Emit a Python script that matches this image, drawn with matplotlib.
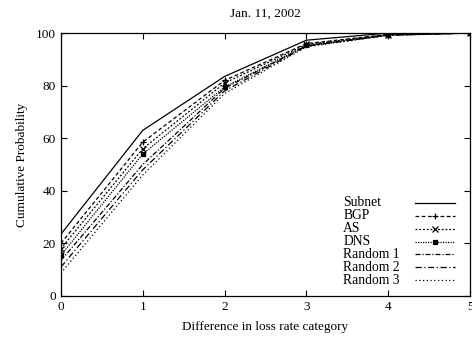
import matplotlib
matplotlib.use("Agg")
import matplotlib.pyplot as plt
from matplotlib.lines import Line2D

plt.rcParams['font.family'] = ['Liberation Serif', 'DejaVu Serif']
plt.rcParams['font.size'] = 9.5

categories = [0, 1, 2, 3, 4, 5]
subnet = [23.5, 63, 83.5, 97.3, 100, 100]
bgp = [20, 58.5, 82, 96, 99.5, 100]
as_ = [18, 56, 81, 95.7, 99.4, 100]
dns = [15.5, 54, 79.5, 95.3, 99.3, 100]
random1 = [13.5, 50, 79, 95.2, 99.2, 100]
random2 = [11, 48, 78, 95, 99.2, 100]
random3 = [8.7, 46, 77, 94.8, 99.1, 100]

series = [
    ("Subnet", subnet, dict(linestyle='-', marker=None)),
    ("BGP", bgp, dict(linestyle=(0, (3, 2)), marker='+', markersize=5)),
    ("AS", as_, dict(linestyle=(0, (1.5, 1.5)), marker='x', markersize=4)),
    ("DNS", dns, dict(linestyle=(0, (1, 1)), marker='s', markersize=3.5)),
    ("Random 1", random1, dict(linestyle=(0, (4, 1.5, 1, 1.5)), marker=None)),
    ("Random 2", random2, dict(linestyle=(0, (5, 2, 1, 2)), marker=None)),
    ("Random 3", random3, dict(linestyle=(0, (1, 2)), marker=None)),
]

fig = plt.figure(figsize=(4.72, 3.41), dpi=100)
ax = fig.add_axes([0.129, 0.132, 0.867, 0.771])

for name, vals, style in series:
    ax.plot(categories, vals, color='black', linewidth=0.9,
            markeredgewidth=0.9, label=name, **style)

ax.set_xlim(0, 5)
ax.set_ylim(0, 100)
ax.set_xticks(categories)
ax.set_yticks([0, 20, 40, 60, 80, 100])
ax.tick_params(direction='in', top=True, right=True, length=4, width=0.8,
               labelsize=9.5)
for s in ax.spines.values():
    s.set_linewidth(0.9)

ax.set_title("Jan. 11, 2002", fontsize=9.5, pad=12)
ax.set_xlabel("Difference in loss rate category", fontsize=9.5, labelpad=6)
ax.set_ylabel("Cumulative Probability", fontsize=9.5, labelpad=6)

# Key: left-aligned labels with line samples to their right
key_x_text = 0.69
key_x0, key_x1 = 0.866, 0.963
key_y0, key_dy = 0.354, 0.049
for i, (name, vals, style) in enumerate(series):
    y = key_y0 - i * key_dy
    ax.text(key_x_text, y, name, transform=ax.transAxes, ha='left',
            va='center', fontsize=9.8)
    ax.add_line(Line2D([key_x0, key_x1], [y, y], transform=ax.transAxes,
                       color='black', linewidth=0.9, linestyle=style['linestyle']))
    if style['marker']:
        ax.add_line(Line2D([(key_x0 + key_x1) / 2], [y], transform=ax.transAxes,
                           color='black', marker=style['marker'],
                           markersize=style['markersize'], markeredgewidth=0.9,
                           linestyle='none'))

fig.savefig("out.png", dpi=100)
